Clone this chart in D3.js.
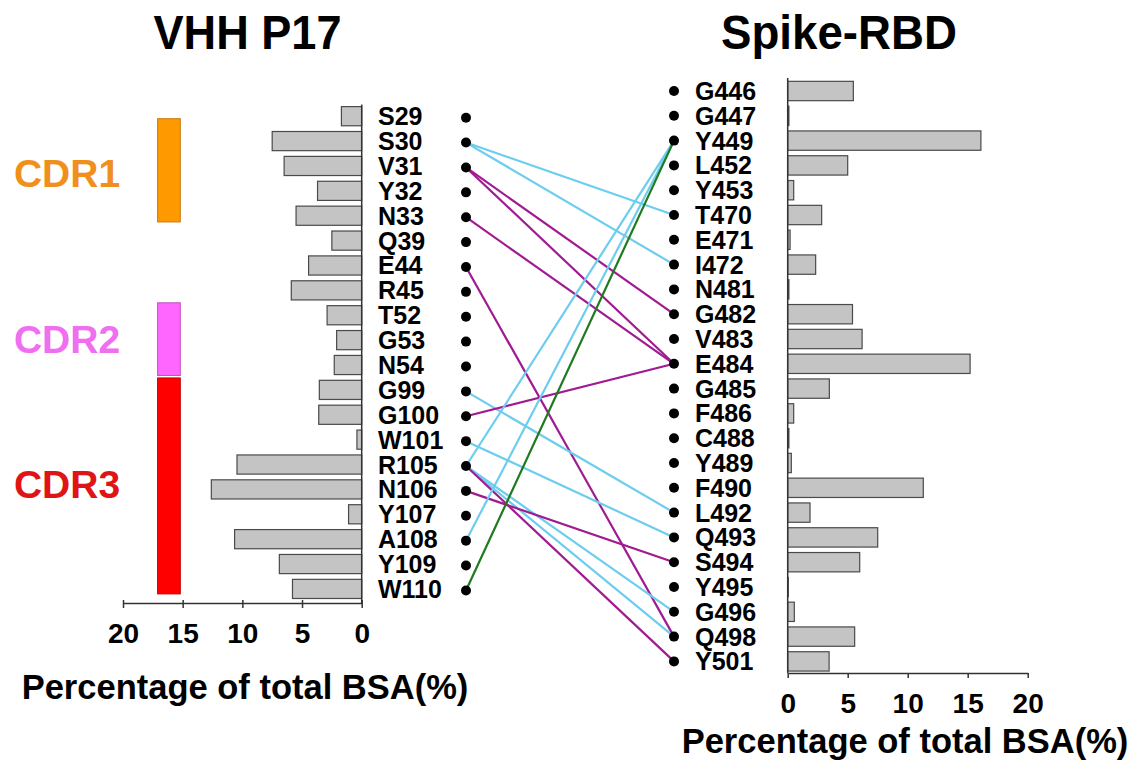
<!DOCTYPE html>
<html>
<head>
<meta charset="utf-8">
<script src="https://cdn.jsdelivr.net/npm/d3@7/dist/d3.min.js"></script>
<style>
  html, body { margin: 0; padding: 0; background: #fff; }
  svg text { font-family: "Liberation Sans", Arial, Helvetica, sans-serif; font-weight: bold; }
</style>
</head>
<body>
<svg id="chart" width="1140" height="769"></svg>
<script>
// ---------------- DATA ----------------
const leftRes = ["S29","S30","V31","Y32","N33","Q39","E44","R45","T52","G53","N54","G99","G100","W101","R105","N106","Y107","A108","Y109","W110"];
const leftBSA = [1.7,7.5,6.5,3.7,5.5,2.5,4.45,5.9,2.9,2.1,2.3,3.55,3.6,0.4,10.45,12.6,1.1,10.65,6.9,5.8];

const rightRes = ["G446","G447","Y449","L452","Y453","T470","E471","I472","N481","G482","V483","E484","G485","F486","C488","Y489","F490","L492","Q493","S494","Y495","G496","Q498","Y501"];
const rightBSA = [5.47,0.1,16.1,5.0,0.5,2.83,0.2,2.33,0.1,5.4,6.2,15.2,3.47,0.5,0.1,0.3,11.3,1.86,7.5,6.0,0.05,0.55,5.58,3.45];

const axisTicks = [0, 5, 10, 15, 20];

// CDR regions (extent in residue-row index units, and x extent in BSA units)
const cdrNames = ["CDR1", "CDR2", "CDR3"];
const cdrRowStart = [0.1, 7.5, 10.52];
const cdrRowEnd = [4.25, 10.42, 19.2];
const cdrBSA0 = [15.2, 15.2, 15.2];
const cdrBSA1 = [17.1, 17.1, 17.1];
const cdrFill = ["#ff9900", "#ff66ff", "#ff0000"];
const cdrStroke = ["#c87a10", "#c050c0", "#c00000"];
const cdrLabelColor = ["#f0901c", "#f06ef0", "#e01414"];

// Contacts: VHH residue -> RBD residue, type
const linkFrom = ["S30","S30","V31","V31","N33","E44","G99","G100","W101","R105","R105","R105","R105","N106","A108","W110"];
const linkTo   = ["T470","I472","G482","E484","E484","Q498","L492","E484","Q493","Y449","G496","Q498","Y501","S494","Y449","Y449"];
const linkType = ["c","c","p","p","p","p","c","p","c","c","c","c","p","p","c","g"];
const linkColors = { c: "#6dcdef", p: "#a01a90", g: "#1f7a1f" };

// ---------------- LAYOUT ----------------
const svg = d3.select("#chart");
const fontFam = '"Liberation Sans", Arial, Helvetica, sans-serif';

const stepL = 24.88, firstL = 116.2;
const yL = d3.scaleBand().domain(leftRes)
  .range([firstL - stepL / 2, firstL - stepL / 2 + stepL * leftRes.length])
  .paddingInner(0.23).paddingOuter(0.115);
const rowL = d3.scaleLinear().domain([0, 1]).range([firstL, firstL + stepL]);
const xL = d3.scaleLinear().domain([0, 20]).range([361.7, 123]);

const stepR = 24.8, firstR = 91;
const yR = d3.scaleBand().domain(rightRes)
  .range([firstR - stepR / 2, firstR - stepR / 2 + stepR * rightRes.length])
  .paddingInner(0.22).paddingOuter(0.11);
const xR = d3.scaleLinear().domain([0, 20]).range([787.7, 1027.7]);

const dotXL = 466, dotXR = 674;
const cyL = r => yL(r) + yL.bandwidth() / 2;
const cyR = r => yR(r) + yR.bandwidth() / 2;

// ---------------- TITLES ----------------
svg.append("text").attr("x", 247.5).attr("y", 49).attr("text-anchor", "middle")
  .attr("font-size", 48).attr("textLength", 188).attr("lengthAdjust", "spacingAndGlyphs")
  .text("VHH P17");
svg.append("text").attr("x", 839).attr("y", 49).attr("text-anchor", "middle")
  .attr("font-size", 48).attr("textLength", 236).attr("lengthAdjust", "spacingAndGlyphs")
  .text("Spike-RBD");

// ---------------- CDR BARS ----------------
const cdrIdx = d3.range(cdrNames.length);
svg.append("g").selectAll("rect").data(cdrIdx).join("rect")
  .attr("x", i => xL(cdrBSA1[i]))
  .attr("width", i => xL(cdrBSA0[i]) - xL(cdrBSA1[i]))
  .attr("y", i => rowL(cdrRowStart[i]))
  .attr("height", i => rowL(cdrRowEnd[i]) - rowL(cdrRowStart[i]))
  .attr("fill", i => cdrFill[i]).attr("stroke", i => cdrStroke[i]).attr("stroke-width", 1);

const cdrLabelY = [187, 353, 498];
svg.append("g").selectAll("text").data(cdrIdx).join("text")
  .attr("x", 67).attr("y", i => cdrLabelY[i]).attr("text-anchor", "middle")
  .attr("font-size", 39).attr("fill", i => cdrLabelColor[i])
  .text(i => cdrNames[i]);

// ---------------- LEFT BARS ----------------
svg.append("g").selectAll("rect").data(leftRes).join("rect")
  .attr("x", (d, i) => xL(leftBSA[i]))
  .attr("width", (d, i) => xL(0) - xL(leftBSA[i]))
  .attr("y", d => yL(d)).attr("height", yL.bandwidth())
  .attr("fill", "#c4c4c4").attr("stroke", "#4a4a4a").attr("stroke-width", 1.2);

// left vertical baseline
svg.append("line").attr("x1", xL(0)).attr("x2", xL(0))
  .attr("y1", yL(leftRes[0]) - 2).attr("y2", 603)
  .attr("stroke", "#333").attr("stroke-width", 1.5);

// left bottom axis
const axL = svg.append("g").attr("transform", "translate(0,603)")
  .call(d3.axisBottom(xL).tickValues(axisTicks).tickSizeInner(5).tickSizeOuter(0).tickPadding(15));
axL.select(".domain").attr("stroke", "#333").attr("stroke-width", 1.5);
axL.selectAll(".tick line").attr("stroke", "#333").attr("stroke-width", 1.5).attr("y1", -3);
axL.selectAll(".tick text").attr("font-size", 28).attr("font-family", fontFam)
  .attr("font-weight", "bold").attr("fill", "#000");

svg.append("text").attr("x", 245).attr("y", 699).attr("text-anchor", "middle")
  .attr("font-size", 34.5).text("Percentage of total BSA(%)");

// ---------------- RIGHT BARS ----------------
svg.append("g").selectAll("rect").data(rightRes).join("rect")
  .attr("x", xR(0))
  .attr("width", (d, i) => xR(rightBSA[i]) - xR(0))
  .attr("y", d => yR(d)).attr("height", yR.bandwidth())
  .attr("fill", "#c4c4c4").attr("stroke", "#4a4a4a").attr("stroke-width", 1.2);

svg.append("line").attr("x1", xR(0)).attr("x2", xR(0))
  .attr("y1", 78).attr("y2", 673)
  .attr("stroke", "#333").attr("stroke-width", 1.5);

const axR = svg.append("g").attr("transform", "translate(0,673)")
  .call(d3.axisBottom(xR).tickValues(axisTicks).tickSizeInner(5).tickSizeOuter(0).tickPadding(15));
axR.select(".domain").attr("stroke", "#333").attr("stroke-width", 1.5);
axR.selectAll(".tick line").attr("stroke", "#333").attr("stroke-width", 1.5);
axR.selectAll(".tick text").attr("font-size", 28).attr("font-family", fontFam)
  .attr("font-weight", "bold").attr("fill", "#000");

svg.append("text").attr("x", 905).attr("y", 753).attr("text-anchor", "middle")
  .attr("font-size", 34.5).text("Percentage of total BSA(%)");

// ---------------- RESIDUE LABELS ----------------
svg.append("g").selectAll("text").data(leftRes).join("text")
  .attr("x", 378).attr("y", d => cyL(d)).attr("dy", "0.36em")
  .attr("font-size", 25).text(d => d);
svg.append("g").selectAll("text").data(rightRes).join("text")
  .attr("x", 695).attr("y", d => cyR(d)).attr("dy", "0.36em")
  .attr("font-size", 25).text(d => d);

// ---------------- LINKS ----------------
const linkIdx = d3.range(linkFrom.length);
svg.append("g").selectAll("line").data(linkIdx).join("line")
  .attr("x1", dotXL).attr("y1", i => cyL(linkFrom[i]) + 1.5)
  .attr("x2", dotXR).attr("y2", i => cyR(linkTo[i]))
  .attr("stroke", i => linkColors[linkType[i]]).attr("stroke-width", 2.2);

// ---------------- DOTS ----------------
svg.append("g").selectAll("circle").data(leftRes).join("circle")
  .attr("cx", dotXL).attr("cy", d => cyL(d) + 1.5).attr("r", 5).attr("fill", "#000");
svg.append("g").selectAll("circle").data(rightRes).join("circle")
  .attr("cx", dotXR).attr("cy", d => cyR(d)).attr("r", 5).attr("fill", "#000");
</script>
</body>
</html>
